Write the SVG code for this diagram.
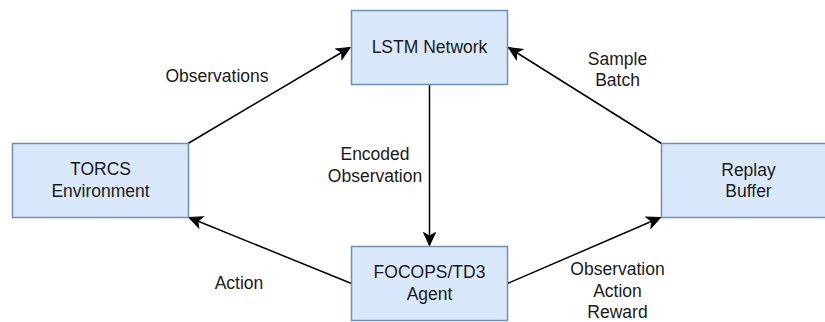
<svg xmlns="http://www.w3.org/2000/svg" width="825" height="322" viewBox="0 0 825 322">
  <style>
    .box { fill: #dae8fc; stroke: #6c8ebf; stroke-width: 1.5; }
    .lbl { font-family: "Liberation Sans", Arial, sans-serif; font-size: 17.5px; fill: #1a1a1a; text-anchor: middle; }
    .edge { fill: none; stroke: #000; stroke-width: 1.5; marker-end: url(#arrow); }
  </style>
  <defs>
    <marker id="arrow" markerUnits="userSpaceOnUse" viewBox="-14 -7 15 14" refX="0" refY="0" markerWidth="15" markerHeight="14" orient="auto">
      <path d="M0,0 L-13,-6 L-9.5,0 L-13,6 Z" fill="#000" stroke="#000" stroke-width="1"/>
    </marker>
  </defs>

  <rect width="825" height="322" fill="#ffffff"/>

  <g id="connectors">
    <line class="edge" x1="188" y1="143.5" x2="350" y2="47.5"/>
    <line class="edge" x1="661.5" y1="143.5" x2="508.5" y2="47.5"/>
    <line class="edge" x1="429.5" y1="84.5" x2="429.5" y2="245.5"/>
    <line class="edge" x1="351.5" y1="283.5" x2="189" y2="217.5"/>
    <line class="edge" x1="507.5" y1="283.5" x2="660.5" y2="217.5"/>
    <text class="lbl" x="217" y="82">Observations</text>
    <text class="lbl" x="617.5" y="64.5">Sample</text>
    <text class="lbl" x="617.5" y="86">Batch</text>
    <text class="lbl" x="375" y="160">Encoded</text>
    <text class="lbl" x="375" y="182">Observation</text>
    <text class="lbl" x="239" y="288.5">Action</text>
    <text class="lbl" x="617.5" y="275">Observation</text>
    <text class="lbl" x="617.5" y="296.5">Action</text>
    <text class="lbl" x="617.5" y="318">Reward</text>
  </g>

  <g id="lstm-network">
    <rect class="box" x="351.5" y="10.5" width="156" height="74"/>
    <text class="lbl" x="429.5" y="53">LSTM Network</text>
  </g>

  <g id="torcs-environment">
    <rect class="box" x="12.5" y="143.5" width="176" height="74"/>
    <text class="lbl" x="100.5" y="175">TORCS</text>
    <text class="lbl" x="100.5" y="197">Environment</text>
  </g>

  <g id="focops-agent">
    <rect class="box" x="351.5" y="246.5" width="156" height="74"/>
    <text class="lbl" x="429.5" y="278">FOCOPS/TD3</text>
    <text class="lbl" x="429.5" y="300">Agent</text>
  </g>

  <g id="replay-buffer">
    <rect class="box" x="661.5" y="143.5" width="176" height="74"/>
    <text class="lbl" x="748.5" y="175.5">Replay</text>
    <text class="lbl" x="748.5" y="197">Buffer</text>
  </g>
</svg>
